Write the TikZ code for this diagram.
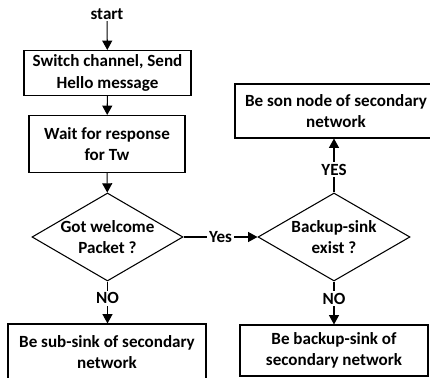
\documentclass[tikz,border=0pt]{standalone}
\usepackage{fontspec}
\setmainfont{Carlito}
\usetikzlibrary{shapes.geometric,arrows.meta}
\begin{document}
\begin{tikzpicture}[x=0.75pt,y=-0.75pt,
  txt/.style={align=center, inner sep=1pt, font=\bfseries\fontsize{12.8}{16.2}\selectfont},
  box/.style={draw, line width=0.8pt, txt},
  dia/.style={draw, diamond, line width=0.8pt, inner sep=0pt},
  lbl/.style={fill=white, inner sep=1.5pt, font=\bfseries\fontsize{12.8}{14}\selectfont},
  arr/.style={-{Triangle[width=7.5pt,length=7pt]}, line width=0.8pt}]
\useasboundingbox (0,0) rectangle (430,378);
\clip (0,0) rectangle (430,378);
\node[txt] (start) at (107,14) {start};
\node[box, minimum width=125.25pt, minimum height=33.75pt] (b1) at (107.5,73) {Switch channel, Send\\Hello message};
\node[box, minimum width=117pt, minimum height=42.75pt] (b2) at (107,144) {Wait for response\\for Tw};
\node[dia, minimum width=113.25pt, minimum height=66pt] (d1) at (107.5,237) {};
\node[txt] (t1) at (d1) {Got welcome\\Packet ?};
\node[dia, minimum width=114pt, minimum height=66pt] (d2) at (334,237) {};
\node[txt] (t2) at (d2) {Backup-sink\\exist ?};
\node[box, minimum width=151.5pt, minimum height=40.5pt] (b3) at (336,111) {Be son node of secondary\\network};
\node[box, minimum width=148.5pt, minimum height=42pt] (b4) at (107,352) {Be sub-sink of secondary\\network};
\node[box, minimum width=141pt, minimum height=38.25pt] (b5) at (334,350.5) {Be backup-sink of\\secondary network};
\draw[arr] (start) -- (b1);
\draw[arr] (b1) -- (b2);
\draw[arr] (b2) -- (d1);
\draw[arr] (d1.south) -- node[lbl, pos=0.4] (no1) {NO} (d1.south |- b4.north);
\draw[arr] (d1.east) -- node[lbl] (yes1) {Yes} (d2.west);
\draw[arr] (d2.north) -- node[lbl, pos=0.42] (yes2) {YES} (d2.north |- b3.south);
\draw[arr] (d2.south) -- node[lbl, pos=0.4] (no2) {NO} (d2.south |- b5.north);
\end{tikzpicture}
\end{document}
